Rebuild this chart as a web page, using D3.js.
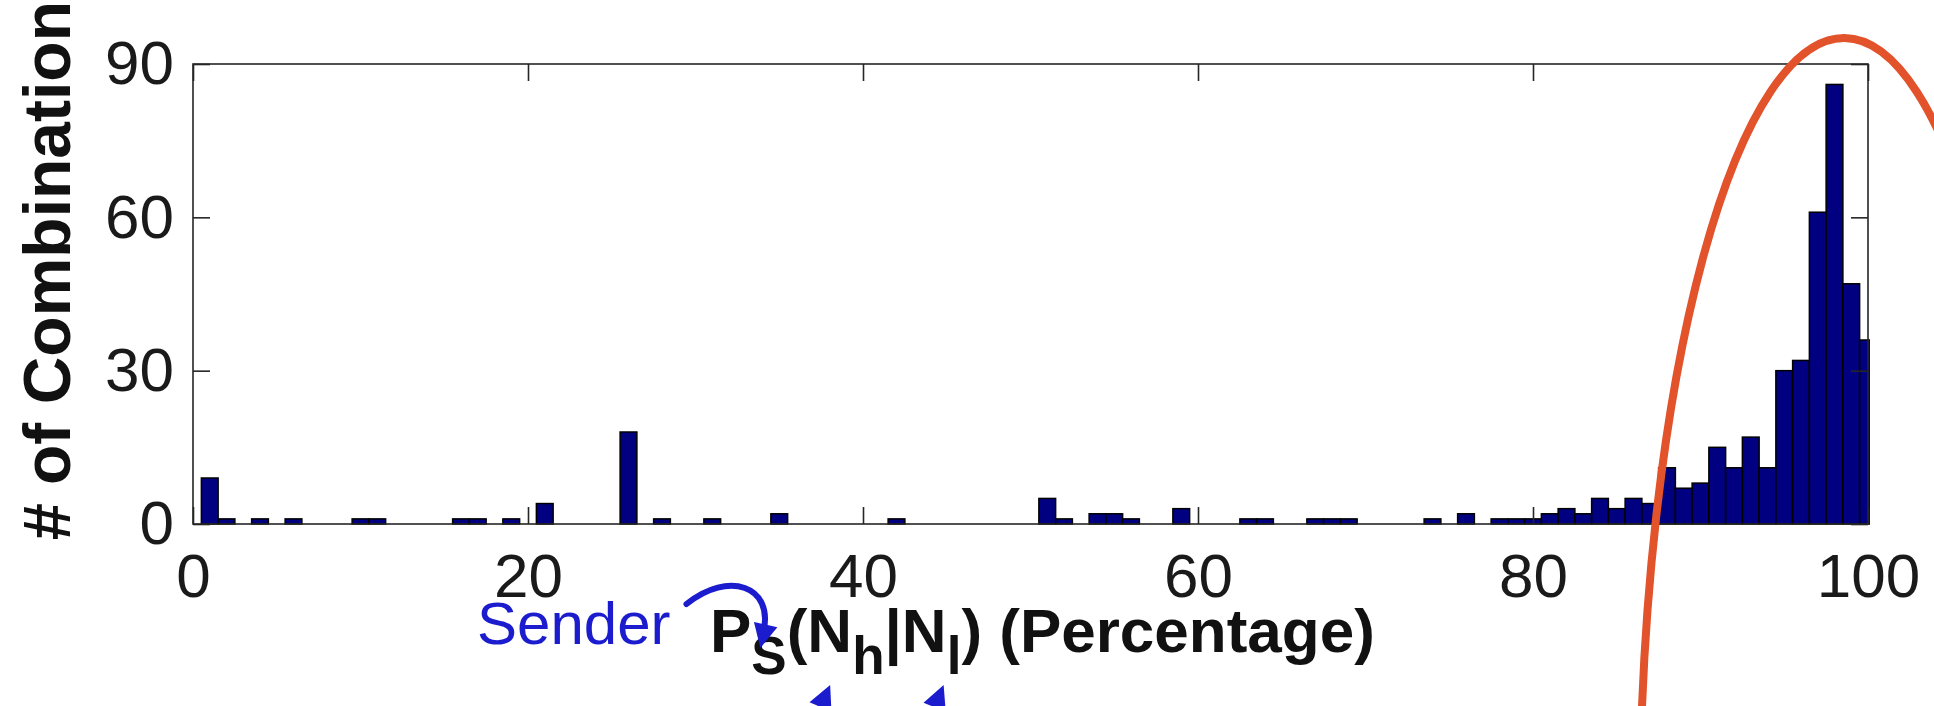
<!DOCTYPE html>
<html>
<head>
<meta charset="utf-8">
<script src="https://cdn.jsdelivr.net/npm/d3@7"></script>
<style>
  html, body { margin: 0; padding: 0; background: #fff; }
  svg { display: block; }
  text { font-family: "Liberation Sans", Arial, Helvetica, sans-serif; }
</style>
</head>
<body>
<div id="chart"></div>
<script>
// histogram: one bin per percentage point, centred on the integer
const binCenters = d3.range(0, 101);
const counts = [
  0, 9, 1, 0, 1, 0, 1, 0, 0, 0,
  1, 1, 0, 0, 0, 0, 1, 1, 0, 1,
  0, 4, 0, 0, 0, 0, 18, 0, 1, 0,
  0, 1, 0, 0, 0, 2, 0, 0, 0, 0,
  0, 0, 1, 0, 0, 0, 0, 0, 0, 0,
  0, 5, 1, 0, 2, 2, 1, 0, 0, 3,
  0, 0, 0, 1, 1, 0, 0, 1, 1, 1,
  0, 0, 0, 0, 1, 0, 2, 0, 1, 1,
  1, 2, 3, 2, 5, 3, 5, 4, 11, 7,
  8, 15, 11, 17, 11, 30, 32, 61, 86, 47,
  36
];
const xTicks = [0, 20, 40, 60, 80, 100];
const yTicks = [0, 30, 60, 90];
const yLabel = '# of Combination';
const senderLabel = 'Sender';

// highlighted region around the high-percentage bins (data units, degrees)
const highlight = { cx: 98.2, cy: -53.6, rx: 11.82, ry: 148.7, angle: 0.5 };

const width = 1934;
const height = 706;
const margin = { top: 64, right: 66, bottom: 182, left: 193 };

const svg = d3
  .select('#chart')
  .append('svg')
  .attr('width', width)
  .attr('height', height);

svg.append('rect').attr('width', width).attr('height', height).attr('fill', '#fff');

const x = d3
  .scaleLinear()
  .domain([0, 100])
  .range([margin.left, width - margin.right]);

const y = d3
  .scaleLinear()
  .domain([0, 90])
  .range([height - margin.bottom, margin.top]);

svg.append('clipPath')
  .attr('id', 'plot-clip')
  .append('rect')
  .attr('x', x(0))
  .attr('y', y(90) - 2)
  .attr('width', x(100) - x(0) + 2)
  .attr('height', y(0) - y(90) + 4);

const bins = binCenters
  .map((c, i) => ({ c, v: counts[i] }))
  .filter((d) => d.v > 0);

svg.append('g')
  .attr('clip-path', 'url(#plot-clip)')
  .selectAll('.bar')
  .data(bins)
  .enter()
  .append('rect')
  .attr('class', 'bar')
  .attr('x', (d) => x(d.c - 0.5))
  .attr('y', (d) => y(d.v))
  .attr('width', (d) => x(d.c + 0.5) - x(d.c - 0.5))
  .attr('height', (d) => y(0) - y(d.v))
  .attr('fill', '#000080')
  .attr('stroke', '#000')
  .attr('stroke-width', 1.5);

// axes with inward ticks on all four sides
const tickLen = 17;
const axisColor = '#262626';

const styleAxis = (g) => {
  g.select('.domain').remove();
  g.selectAll('.tick line').attr('stroke', axisColor).attr('stroke-width', 1.6);
  g.selectAll('.tick text')
    .attr('fill', '#1a1a1a')
    .attr('font-size', 62)
    .attr('font-family', '"Liberation Sans", Arial, Helvetica, sans-serif');
};

svg.append('g')
  .attr('transform', `translate(0, ${y(0)})`)
  .call(d3.axisBottom(x).tickValues(xTicks).tickSizeInner(-tickLen).tickSizeOuter(0).tickPadding(29))
  .call(styleAxis);

svg.append('g')
  .attr('transform', `translate(0, ${y(90)})`)
  .call(d3.axisTop(x).tickValues(xTicks).tickSizeInner(-tickLen).tickSizeOuter(0).tickFormat(''))
  .call(styleAxis);

svg.append('g')
  .attr('transform', `translate(${x(0)}, 0)`)
  .call(d3.axisLeft(y).tickValues(yTicks).tickSizeInner(-tickLen).tickSizeOuter(0).tickPadding(19))
  .call(styleAxis);

svg.append('g')
  .attr('transform', `translate(${x(100)}, 0)`)
  .call(d3.axisRight(y).tickValues(yTicks).tickSizeInner(-tickLen).tickSizeOuter(0).tickFormat(''))
  .call(styleAxis);

svg.append('rect')
  .attr('x', x(0))
  .attr('y', y(90))
  .attr('width', x(100) - x(0))
  .attr('height', y(0) - y(90))
  .attr('fill', 'none')
  .attr('stroke', axisColor)
  .attr('stroke-width', 1.6);

// y label
svg.append('text')
  .attr('transform', 'translate(70, 540) rotate(-90)')
  .attr('font-size', 66)
  .attr('font-weight', 'bold')
  .attr('fill', '#111')
  .text(yLabel);

// x label: P_S(N_h|N_l) (Percentage)
const xLabel = svg.append('text')
  .attr('x', 710)
  .attr('y', 652)
  .attr('font-size', 62)
  .attr('font-weight', 'bold')
  .attr('fill', '#111');

const subDrop = 22;
const parts = [
  { t: 'P' },
  { t: 'S', sub: true },
  { t: '(N' },
  { t: 'h', sub: true },
  { t: '|N' },
  { t: 'l', sub: true },
  { t: ') (Percentage)' }
];
let lowered = false;
parts.forEach((p) => {
  const span = xLabel.append('tspan').text(p.t);
  if (p.sub) span.attr('font-size', 53);
  if (p.sub && !lowered) {
    span.attr('dy', subDrop);
    lowered = true;
  } else if (!p.sub && lowered) {
    span.attr('dy', -subDrop);
    lowered = false;
  }
});

const blue = '#1c1ccf';

const sender = svg.append('text')
  .attr('x', 477)
  .attr('y', 644)
  .attr('font-size', 60)
  .attr('fill', blue)
  .text(senderLabel);

const arrowHead = (tip, angle) => {
  const len = 24;
  const half = 12;
  const bx = tip[0] - len * Math.cos(angle);
  const by = tip[1] - len * Math.sin(angle);
  const nx = -Math.sin(angle) * half;
  const ny = Math.cos(angle) * half;
  return `M${tip[0]},${tip[1]}L${bx + nx},${by + ny}L${bx - nx},${by - ny}Z`;
};

const labelNode = xLabel.node();
const sBox = labelNode.getExtentOfChar(1);
const hBox = labelNode.getExtentOfChar(4);
const lBox = labelNode.getExtentOfChar(7);
const senderBox = sender.node().getBBox();

const arrows = svg.append('g');

// curved pointer from "Sender" down onto the S subscript
const start = [senderBox.x + senderBox.width + 16, senderBox.y + 14];
const tip = [sBox.x + 9, sBox.y + 22];
const c1 = [start[0] + 42, start[1] - 34];
const c2 = [tip[0] + 14, tip[1] - 62];
const end = [tip[0] + 3, tip[1] - 16];
const curve = d3.path();
curve.moveTo(start[0], start[1]);
curve.bezierCurveTo(c1[0], c1[1], c2[0], c2[1], end[0], end[1]);
arrows.append('path')
  .attr('d', curve.toString())
  .attr('fill', 'none')
  .attr('stroke', blue)
  .attr('stroke-width', 6)
  .attr('stroke-linecap', 'round');
arrows.append('path')
  .attr('d', arrowHead(tip, Math.atan2(tip[1] - c2[1], tip[0] - c2[0])))
  .attr('fill', blue);

// pointers coming up from below onto the h and l subscripts
const subBottom = hBox.y + hBox.height;
[
  { tip: [hBox.x - 22, subBottom], from: [hBox.x - 62, height + 70] },
  { tip: [lBox.x - 3, subBottom], from: [lBox.x - 40, height + 70] }
].forEach((a) => {
  const ang = Math.atan2(a.tip[1] - a.from[1], a.tip[0] - a.from[0]);
  arrows.append('line')
    .attr('x1', a.from[0])
    .attr('y1', a.from[1])
    .attr('x2', a.tip[0] - 14 * Math.cos(ang))
    .attr('y2', a.tip[1] - 14 * Math.sin(ang))
    .attr('stroke', blue)
    .attr('stroke-width', 6);
  arrows.append('path').attr('d', arrowHead(a.tip, ang)).attr('fill', blue);
});

// highlight ellipse
svg.append('ellipse')
  .attr('cx', 0)
  .attr('cy', 0)
  .attr('rx', x(highlight.rx) - x(0))
  .attr('ry', y(0) - y(highlight.ry))
  .attr('transform', `translate(${x(highlight.cx)}, ${y(highlight.cy)}) rotate(${highlight.angle})`)
  .attr('fill', 'none')
  .attr('stroke', '#e2522b')
  .attr('stroke-width', 8);
</script>
</body>
</html>
